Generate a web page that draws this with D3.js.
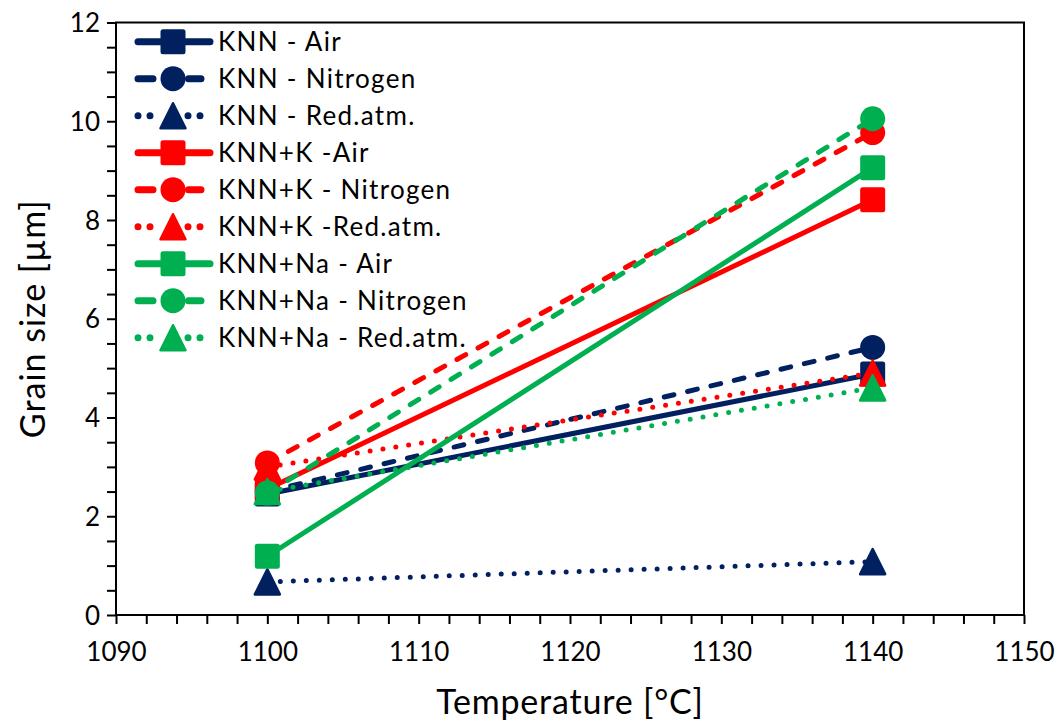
<!DOCTYPE html>
<html>
<head>
<meta charset="utf-8">
<script src="https://cdn.jsdelivr.net/npm/d3@7"></script>
<style>
  html, body { margin: 0; padding: 0; background: #fff; }
  svg { display: block; font-family: Lato, "Open Sans", sans-serif; }
</style>
</head>
<body>
<svg id="chart" width="1062" height="727"></svg>
<script>
// Sintering temperature (°C) of the two measurement points
const temperatures = [1100, 1140];

// Mean grain size (µm) for each composition / atmosphere
const knnAir        = [2.45, 4.88];
const knnNitrogen   = [2.50, 5.42];
const knnRedAtm     = [0.67, 1.08];
const knnKAir       = [2.55, 8.41];
const knnKNitrogen  = [3.08, 9.77];
const knnKRedAtm    = [3.00, 4.90];
const knnNaAir      = [1.19, 9.06];
const knnNaNitrogen = [2.47, 10.05];
const knnNaRedAtm   = [2.50, 4.60];

const seriesLabels = [
  "KNN - Air", "KNN - Nitrogen", "KNN - Red.atm.",
  "KNN+K -Air", "KNN+K - Nitrogen", "KNN+K -Red.atm.",
  "KNN+Na - Air", "KNN+Na - Nitrogen", "KNN+Na - Red.atm."
];
const seriesValues = [
  knnAir, knnNitrogen, knnRedAtm,
  knnKAir, knnKNitrogen, knnKRedAtm,
  knnNaAir, knnNaNitrogen, knnNaRedAtm
];

const xTickLabels = [1090, 1100, 1110, 1120, 1130, 1140, 1150];
const yTickLabels = [0, 2, 4, 6, 8, 10, 12];

// Styling: colour by composition, line dash and marker by atmosphere
const groupColors = ["#002060", "#ff0000", "#00b050"];
const atmStyles = [
  { dash: null,    legendDash: null,                      marker: "square" },
  { dash: "10,14", legendDash: "15,35.5,12.5,100",        marker: "circle" },
  { dash: "0,13",  legendDash: "0,12,0,38,0,12,0,100",    marker: "triangle" }
];

const series = seriesLabels.map((label, i) => ({
  label,
  color: groupColors[Math.floor(i / 3)],
  dash: atmStyles[i % 3].dash,
  legendDash: atmStyles[i % 3].legendDash,
  marker: atmStyles[i % 3].marker,
  points: temperatures.map((t, j) => ({ t, v: seriesValues[i][j] }))
}));

const svg = d3.select("#chart");
const plot = { left: 116, right: 1024, top: 22.5, bottom: 615 };

const x = d3.scaleLinear().domain([1090, 1150]).range([plot.left, plot.right]);
const y = d3.scaleLinear().domain([0, 12]).range([plot.bottom, plot.top]);

const ink = "#000";

// Axes: ticks outward, minor ticks every 2 °C and every 0.5 µm
const xAxis = d3.axisBottom(x)
  .tickValues(d3.range(1090, 1150.1, 2))
  .tickSize(9)
  .tickFormat(d => xTickLabels.includes(d) ? d : "");
const yAxis = d3.axisLeft(y)
  .tickValues(d3.range(0, 12.01, 0.5))
  .tickSize(9)
  .tickFormat(d => yTickLabels.includes(d) ? d : "");

const gx = svg.append("g")
  .attr("transform", `translate(0,${plot.bottom})`)
  .call(xAxis);
const gy = svg.append("g")
  .attr("transform", `translate(${plot.left},0)`)
  .call(yAxis);

[gx, gy].forEach(g => {
  g.select(".domain").remove();
  g.selectAll(".tick line").attr("stroke", ink).attr("stroke-width", 2);
  g.selectAll(".tick text")
    .attr("fill", ink)
    .style("font-size", "26px")
    .style("font-family", "Lato, 'Open Sans', sans-serif");
});
gx.selectAll(".tick text").attr("dy", "0").attr("y", 46);
gy.selectAll(".tick text").attr("x", -16).attr("dy", "0.35em");

// Plot frame
svg.append("rect")
  .attr("x", plot.left).attr("y", plot.top)
  .attr("width", plot.right - plot.left)
  .attr("height", plot.bottom - plot.top)
  .attr("fill", "none")
  .attr("stroke", ink)
  .attr("stroke-width", 2);

// Axis titles
svg.append("text")
  .attr("x", (plot.left + plot.right) / 2)
  .attr("y", 714)
  .attr("text-anchor", "middle")
  .attr("fill", ink)
  .style("font-size", "34px")
  .style("letter-spacing", "0.8px")
  .text("Temperature [°C]");

svg.append("text")
  .attr("transform", `translate(45,${y(6)}) rotate(-90)`)
  .attr("text-anchor", "middle")
  .attr("fill", ink)
  .style("font-size", "34px")
  .style("letter-spacing", "1px")
  .text("Grain size [µm]");

// Marker drawing helper
const markerSize = 25;
function drawMarker(g, shape, cx, cy, color) {
  const s = markerSize;
  if (shape === "square") {
    g.append("rect")
      .attr("x", cx - s / 2).attr("y", cy - s / 2)
      .attr("width", s).attr("height", s)
      .attr("rx", 2.5)
      .attr("fill", color);
  } else if (shape === "circle") {
    g.append("circle")
      .attr("cx", cx).attr("cy", cy).attr("r", s / 2)
      .attr("fill", color);
  } else {
    const h = s;
    g.append("path")
      .attr("d", `M${cx},${cy - h / 2} L${cx + s / 2},${cy + h / 2} L${cx - s / 2},${cy + h / 2} Z`)
      .attr("fill", color)
      .attr("stroke", color)
      .attr("stroke-width", 2.5)
      .attr("stroke-linejoin", "round");
  }
}

const line = d3.line().x(d => x(d.t)).y(d => y(d.v));

// Series: line then markers, in legend order
series.forEach(s => {
  const g = svg.append("g");
  g.append("path")
    .datum(s.points)
    .attr("d", line)
    .attr("fill", "none")
    .attr("stroke", s.color)
    .attr("stroke-width", 5)
    .attr("stroke-linecap", "round")
    .attr("stroke-dasharray", s.dash);
  s.points.forEach(p => drawMarker(g, s.marker, x(p.t), y(p.v), s.color));
});

// Legend
const legend = svg.append("g");
const legendTop = 41.7, legendStep = 37;
series.forEach((s, i) => {
  const cy = legendTop + i * legendStep;
  const g = legend.append("g");
  g.append("line")
    .attr("x1", 138).attr("x2", 210)
    .attr("y1", cy).attr("y2", cy)
    .attr("stroke", s.color)
    .attr("stroke-width", 7)
    .attr("stroke-linecap", "round")
    .attr("stroke-dasharray", s.legendDash);
  drawMarker(g, s.marker, 173, cy, s.color);
  g.append("text")
    .attr("x", 218).attr("y", cy)
    .attr("dy", "0.35em")
    .attr("fill", ink)
    .style("font-size", "26px")
    .style("letter-spacing", "1.3px")
    .text(s.label);
});
</script>
</body>
</html>
